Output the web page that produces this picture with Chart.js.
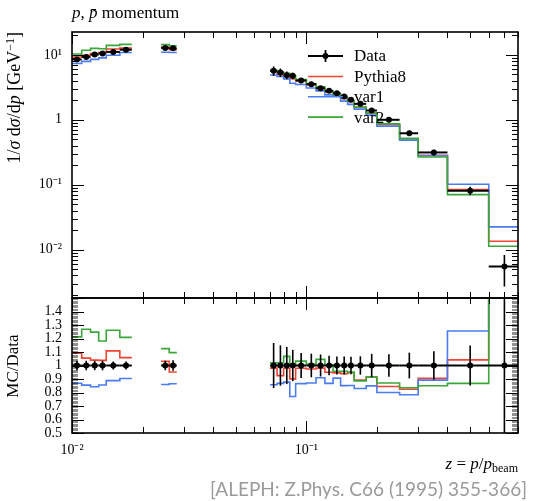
<!DOCTYPE html>
<html>
<head>
<meta charset="utf-8">
<script src="https://cdn.jsdelivr.net/npm/chart.js@4.4.1/dist/chart.umd.min.js"></script>
<style>
  html, body { margin: 0; padding: 0; background: #fff; }
  #wrap { position: relative; width: 536px; height: 501px; overflow: hidden; font-family: 'Liberation Serif', serif; color: #000; }
  canvas { position: absolute; left: 0; }
  #main { top: 0; }
  #ratio { top: 286px; }
  .lbl { position: absolute; white-space: nowrap; line-height: 1; }
  #title { left: 72px; top: 4px; font-size: 17px; }
  #ylab { left: 4px; top: 32px; font-size: 18px; transform-origin: 0 0; transform: rotate(-90deg) translateX(-100%); }
  #rlab { left: 4px; top: 366px; font-size: 17px; transform-origin: 0 0; transform: rotate(-90deg) translateX(-50%); }
  #xlab { right: 18px; top: 455px; font-size: 17px; }
  #xlab sub { font-size: 12px; vertical-align: -3px; }
  #ylab sup { font-size: 12px; vertical-align: 6px; }
  #cite { right: 9px; top: 479px; font-family: Lato, sans-serif; font-size: 19px; color: #9a9a9a; }
</style>
</head>
<body>
<div id="wrap">
  <canvas id="main" width="536" height="308"></canvas>
  <canvas id="ratio" width="536" height="215"></canvas>
  <div class="lbl" id="title"><i>p</i>, <i>p̄</i> momentum</div>
  <div class="lbl" id="ylab">1/<i>σ</i> d<i>σ</i>/d<i>p</i> [GeV<sup>−1</sup>]</div>
  <div class="lbl" id="rlab">MC/Data</div>
  <div class="lbl" id="xlab"><i>z</i> = <i>p</i>/<i>p</i><sub>beam</sub></div>
  <div class="lbl" id="cite">[ALEPH: Z.Phys. C66 (1995) 355-366]</div>
</div>
<script>
// bins in z = p/p_beam
const binLo = [0.010, 0.011, 0.012, 0.013, 0.014, 0.016, 0.024, 0.026,
  0.070, 0.075, 0.080, 0.085, 0.090, 0.100, 0.110, 0.120, 0.130, 0.140,
  0.150, 0.160, 0.180, 0.200, 0.250, 0.300, 0.400, 0.600];
const binHi = [0.011, 0.012, 0.013, 0.014, 0.016, 0.018, 0.026, 0.028,
  0.075, 0.080, 0.085, 0.090, 0.100, 0.110, 0.120, 0.130, 0.140, 0.150,
  0.160, 0.180, 0.200, 0.250, 0.300, 0.400, 0.600, 0.800];

// 1/sigma dsigma/dp
const dataVal = [8.5, 9.3, 10.1, 10.5, 11.1, 12.0, 12.8, 12.6,
  5.7, 5.35, 4.87, 4.75, 4.03, 3.54, 3.07, 2.79, 2.57, 2.28,
  2.03, 1.76, 1.39, 1.00, 0.62, 0.314, 0.081, 0.0055];
const dataErr = [0.30, 0.33, 0.35, 0.37, 0.33, 0.36, 0.45, 0.50,
  0.95, 0.80, 0.67, 0.55, 0.37, 0.31, 0.25, 0.20, 0.17, 0.15,
  0.13, 0.12, 0.12, 0.083, 0.059, 0.033, 0.012, 0.0028];
const pythia8 = [9.27, 9.81, 10.5, 10.9, 12.3, 12.7, 13.2, 12.0,
  5.59, 4.95, 4.77, 4.28, 3.95, 3.45, 3.01, 2.65, 2.43, 2.14,
  1.92, 1.57, 1.27, 0.845, 0.511, 0.284, 0.0844, 0.0135];
const var1 = [7.38, 7.95, 8.51, 8.98, 9.86, 10.85, 11.0, 10.9,
  4.89, 4.64, 4.27, 3.66, 3.49, 3.08, 2.79, 2.42, 2.33, 1.94,
  1.73, 1.46, 1.18, 0.80, 0.486, 0.280, 0.1017, 0.0224];
const var2 = [10.3, 11.8, 12.6, 12.4, 14.0, 14.5, 14.4, 13.8,
  5.81, 5.46, 5.20, 4.75, 4.16, 3.58, 3.21, 2.80, 2.46, 2.18,
  1.93, 1.56, 1.27, 0.87, 0.518, 0.267, 0.0703, 0.0113];

// labelled ticks
const xMajor = [0.01, 0.1];
const xMajorLabels = ['10⁻²', '10⁻¹'];
const yMajor = [0.01, 0.1, 1, 10];
const yMajorLabels = ['10⁻²', '10⁻¹', '1', '10¹'];
const rMajor = [0.5, 0.6, 0.7, 0.8, 0.9, 1.0, 1.1, 1.2, 1.3, 1.4];
const rMajorLabels = ['0.5', '0.6', '0.7', '0.8', '0.9', '1', '1.1', '1.2', '1.3', '1.4'];

const series = [
  { label: 'Pythia8', color: '#ee4433', vals: pythia8 },
  { label: 'var1', color: '#4a7cf0', vals: var1 },
  { label: 'var2', color: '#3aa63a', vals: var2 },
];

const serif = "'Liberation Serif', serif";
const binMid = i => (binLo[i] + binHi[i]) / 2;

// histogram outline as stepped points, broken where bins are not adjacent
function stepPoints(yOf) {
  const pts = [];
  for (let i = 0; i < binLo.length; i++) {
    if (i > 0 && binLo[i] > binHi[i - 1] * 1.0001) {
      pts.push({ x: binHi[i - 1], y: yOf(i - 1) });
      pts.push({ x: (binHi[i - 1] + binLo[i]) / 2, y: null });
    }
    pts.push({ x: binLo[i], y: yOf(i) });
  }
  const n = binLo.length - 1;
  pts.push({ x: binHi[n], y: yOf(n) });
  return pts;
}

function logTicks(lo, hi) {
  const out = [];
  for (let e = -4; e <= 2; e++) {
    for (let m = 1; m <= 9; m++) {
      const v = +(m * Math.pow(10, e)).toPrecision(6);
      if (v >= lo * 0.9999 && v <= hi * 1.0001) out.push({ value: v, big: m === 1 });
    }
  }
  return out;
}

function labelFor(majors, labels) {
  return value => {
    const i = majors.findIndex(m => Math.abs(m - value) <= 1e-6 * m);
    return i >= 0 ? labels[i] : '';
  };
}

// inward tick marks on all four sides plus the frame
const frameTicks = {
  id: 'frameTicks',
  afterDraw(chart, args, opts) {
    const { ctx, chartArea: a } = chart;
    const xs = chart.scales.x, ys = chart.scales.y;
    ctx.save();
    ctx.strokeStyle = '#000';
    ctx.lineWidth = 1;
    ctx.beginPath();
    for (const t of xs.ticks) {
      const px = Math.round(xs.getPixelForValue(t.value)) + 0.5;
      const len = t.big ? 12 : 6;
      ctx.moveTo(px, a.bottom); ctx.lineTo(px, a.bottom - len);
      ctx.moveTo(px, a.top); ctx.lineTo(px, a.top + len);
    }
    for (const t of ys.ticks.filter(t => t.big)) {
      const py = Math.round(ys.getPixelForValue(t.value)) + 0.5;
      ctx.moveTo(a.left, py); ctx.lineTo(a.left + 12, py);
      ctx.moveTo(a.right, py); ctx.lineTo(a.right - 12, py);
    }
    ctx.stroke();
    // minor y ticks, lighter where they sit close together
    ctx.strokeStyle = opts.minorColor;
    ctx.lineWidth = opts.minorWidth;
    ctx.beginPath();
    for (const t of ys.ticks.filter(t => !t.big)) {
      const py = Math.round(ys.getPixelForValue(t.value)) + 0.5;
      ctx.moveTo(a.left, py); ctx.lineTo(a.left + 6, py);
      ctx.moveTo(a.right, py); ctx.lineTo(a.right - 6, py);
    }
    ctx.stroke();
    ctx.strokeStyle = '#000';
    ctx.lineWidth = 1.6;
    ctx.strokeRect(a.left, a.top, a.right - a.left, a.bottom - a.top);
    ctx.restore();
  }
};

// data error bars: bin width horizontally, uncertainty vertically
const errorBars = {
  id: 'errorBars',
  afterDatasetsDraw(chart, args, opts) {
    const { ctx, chartArea: a } = chart;
    const xs = chart.scales.x, ys = chart.scales.y;
    ctx.save();
    ctx.beginPath();
    ctx.rect(a.left, a.top, a.right - a.left, a.bottom - a.top);
    ctx.clip();
    ctx.strokeStyle = '#000';
    for (let i = 0; i < dataVal.length; i++) {
      const v = opts.ratio ? 1 : dataVal[i];
      const e = opts.ratio ? dataErr[i] / dataVal[i] : dataErr[i];
      const y = ys.getPixelForValue(v);
      ctx.lineWidth = 2;
      ctx.beginPath();
      ctx.moveTo(xs.getPixelForValue(binLo[i]), y);
      ctx.lineTo(xs.getPixelForValue(binHi[i]), y);
      ctx.stroke();
      const x = xs.getPixelForValue(binMid(i));
      ctx.lineWidth = 1.6;
      ctx.beginPath();
      ctx.moveTo(x, ys.getPixelForValue(v - e));
      ctx.lineTo(x, ys.getPixelForValue(v + e));
      ctx.stroke();
    }
    ctx.restore();
  }
};

// legend inside the main panel
const legendBox = {
  id: 'legendBox',
  afterDraw(chart) {
    const ctx = chart.ctx;
    const x0 = 308, x1 = 343, tx = 354;
    const rows = [{ label: 'Data', color: '#000', y: 56 }].concat(
      series.map((s, i) => ({ label: s.label, color: s.color, y: 76.5 + i * 20.3 })));
    ctx.save();
    ctx.font = '17px ' + serif;
    ctx.textBaseline = 'middle';
    for (const r of rows) {
      ctx.strokeStyle = r.color;
      ctx.lineWidth = r.label === 'Data' ? 1.8 : 1.6;
      ctx.beginPath(); ctx.moveTo(x0, r.y); ctx.lineTo(x1, r.y); ctx.stroke();
      if (r.label === 'Data') {
        const cx = (x0 + x1) / 2;
        ctx.beginPath(); ctx.moveTo(cx, r.y - 6); ctx.lineTo(cx, r.y + 6); ctx.stroke();
        ctx.fillStyle = '#000';
        ctx.beginPath(); ctx.arc(cx, r.y, 3, 0, Math.PI * 2); ctx.fill();
      }
      ctx.fillStyle = '#000';
      ctx.fillText(r.label, tx, r.y + 1);
    }
    ctx.restore();
  }
};

const tickFont = { family: serif, size: 14 };
// labels are offset by an undrawn tick length so the layout padding stays small
const hiddenGrid = { display: false, drawTicks: true, tickLength: 10 };

function mcDatasets(ratio) {
  return series.map((s, k) => ({
    type: 'line',
    label: s.label,
    data: stepPoints(i => ratio ? s.vals[i] / dataVal[i] : s.vals[i]),
    borderColor: s.color,
    borderWidth: 1.6,
    pointRadius: 0,
    stepped: 'before',
    spanGaps: false,
    fill: false,
    order: 3 - k,
  }));
}

function dataDataset(ratio) {
  return {
    type: 'scatter',
    label: 'Data',
    data: dataVal.map((v, i) => ({ x: binMid(i), y: ratio ? 1 : v })),
    pointRadius: 3,
    pointBackgroundColor: '#000',
    pointBorderWidth: 0,
    order: 0,
  };
}

const common = {
  responsive: false,
  animation: false,
  events: [],
  plugins: { legend: { display: false }, tooltip: { enabled: false } },
};

new Chart(document.getElementById('main'), {
  type: 'scatter',
  data: { datasets: [dataDataset(false)].concat(mcDatasets(false)) },
  options: {
    ...common,
    layout: { padding: { left: 0, right: 18, top: 32, bottom: 10 } },
    plugins: { ...common.plugins, frameTicks: { minorColor: '#000', minorWidth: 1 }, errorBars: { ratio: false } },
    scales: {
      x: {
        type: 'logarithmic', min: 0.01, max: 0.8, bounds: 'data', display: false,
        afterBuildTicks: s => { s.ticks = logTicks(0.01, 0.8); },
      },
      y: {
        type: 'logarithmic', min: 0.0018, max: 22.5, bounds: 'data',
        grid: hiddenGrid,
        border: { display: false },
        afterBuildTicks: s => { s.ticks = logTicks(0.0018, 22.5); },
        afterFit: s => { s.width = 72; },
        ticks: { autoSkip: false, padding: 0, color: '#000', font: tickFont,
          callback: labelFor(yMajor, yMajorLabels) },
      },
    },
  },
  plugins: [errorBars, frameTicks, legendBox],
});

new Chart(document.getElementById('ratio'), {
  type: 'scatter',
  data: { datasets: [dataDataset(true)].concat(mcDatasets(true)) },
  options: {
    ...common,
    layout: { padding: { left: 0, right: 18, top: 12, bottom: 0 } },
    plugins: { ...common.plugins, frameTicks: { minorColor: 'rgba(0,0,0,0.55)', minorWidth: 0.8 }, errorBars: { ratio: true } },
    scales: {
      x: {
        type: 'logarithmic', min: 0.01, max: 0.8, bounds: 'data',
        grid: { display: false, drawTicks: true, tickLength: 9 },
        border: { display: false },
        afterBuildTicks: s => { s.ticks = logTicks(0.01, 0.8); },
        afterFit: s => { s.height = 68; },
        ticks: { autoSkip: false, maxRotation: 0, padding: 0, color: '#000', font: tickFont,
          callback: labelFor(xMajor, xMajorLabels) },
      },
      y: {
        type: 'linear', min: 0.5, max: 1.5, bounds: 'data',
        grid: hiddenGrid,
        border: { display: false },
        afterBuildTicks: s => {
          const t = [];
          for (let k = 50; k <= 150; k++) t.push({ value: k / 100, big: k % 10 === 0 });
          s.ticks = t;
        },
        afterFit: s => { s.width = 72; },
        ticks: { autoSkip: false, padding: 0, color: '#000', font: tickFont,
          callback: labelFor(rMajor, rMajorLabels) },
      },
    },
  },
  plugins: [errorBars, frameTicks],
});
</script>
</body>
</html>
